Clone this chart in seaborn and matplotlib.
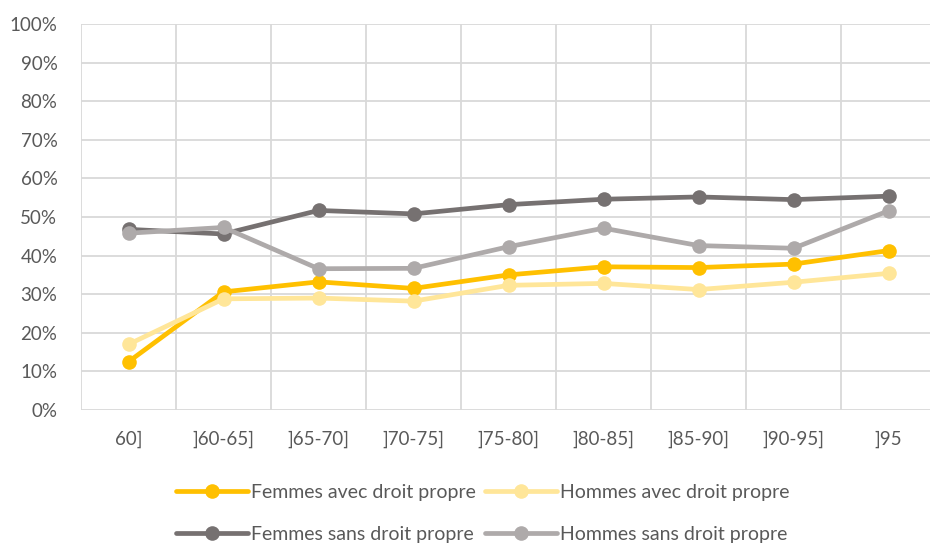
import matplotlib
matplotlib.use("Agg")
import matplotlib.pyplot as plt
from matplotlib.lines import Line2D
import seaborn as sns
import pandas as pd

categories = ["60]", "]60-65]", "]65-70]", "]70-75]", "]75-80]", "]80-85]", "]85-90]", "]90-95]", "]95"]
femmes_avec = [12.5, 30.6, 33.2, 31.5, 35.0, 37.1, 36.9, 37.8, 41.3]
hommes_avec = [17.0, 28.8, 29.0, 28.2, 32.3, 32.8, 31.2, 33.1, 35.4]
femmes_sans = [46.8, 45.6, 51.7, 50.8, 53.2, 54.6, 55.2, 54.5, 55.4]
hommes_sans = [45.8, 47.3, 36.6, 36.7, 42.3, 47.1, 42.6, 41.9, 51.6]
series_names = ["Femmes avec droit propre", "Hommes avec droit propre",
                "Femmes sans droit propre", "Hommes sans droit propre"]
colors = ["#FFC000", "#FFE699", "#767171", "#AEAAAA"]

rows = []
for name, vals in zip(series_names, [femmes_avec, hommes_avec, femmes_sans, hommes_sans]):
    for c, v in zip(categories, vals):
        rows.append({"cat": c, "val": v / 100.0, "serie": name})
df = pd.DataFrame(rows)

sns.set_style("white")
plt.rcParams['font.family'] = ['Lato', 'DejaVu Sans']
text_color = "#595959"
grid_color = "#D9D9D9"

fig = plt.figure(figsize=(9.3, 5.44), dpi=100)
ax = fig.add_axes([81/930, 134/544, 855/930, 386/544])

sns.lineplot(data=df, x="cat", y="val", hue="serie", hue_order=series_names,
             palette=dict(zip(series_names, colors)), marker="o", markersize=10.5,
             markeredgewidth=0, linewidth=3.4, ax=ax, legend=False, sort=False)

ax.set_xlim(-0.5, len(categories) - 0.5)
ax.set_ylim(0, 1.0)
ax.set_yticks([i / 10 for i in range(11)])
ax.set_yticklabels([f"{i*10}%" for i in range(11)])
ax.set_xticks(range(len(categories)))
ax.set_xticklabels(categories)
ax.set_xlabel("")
ax.set_ylabel("")

# gridlines
ax.grid(False)
for y in [i / 10 for i in range(11)]:
    ax.axhline(y, color=grid_color, lw=1.3, zorder=0)
for x in [i - 0.5 for i in range(len(categories))]:
    ax.axvline(x, color=grid_color, lw=1.3, zorder=0)
for s in ax.spines.values():
    s.set_visible(False)

ax.tick_params(axis="both", length=0, labelsize=13.5, labelcolor=text_color)
ax.tick_params(axis="y", pad=17)
ax.tick_params(axis="x", pad=15)

handles = [Line2D([0], [0], color=c, lw=3.4, marker="o", markersize=10.5, markeredgewidth=0)
           for c in colors]
order = [0, 2, 1, 3]
fig.legend([handles[i] for i in order], [series_names[i] for i in order],
           ncol=2, loc="center", bbox_to_anchor=(0.519, 0.056),
           frameon=False, fontsize=14, labelcolor=text_color, handlelength=3.7,
           handletextpad=0.15, columnspacing=0.5, labelspacing=1.3)

fig.savefig("out.png", dpi=100)
